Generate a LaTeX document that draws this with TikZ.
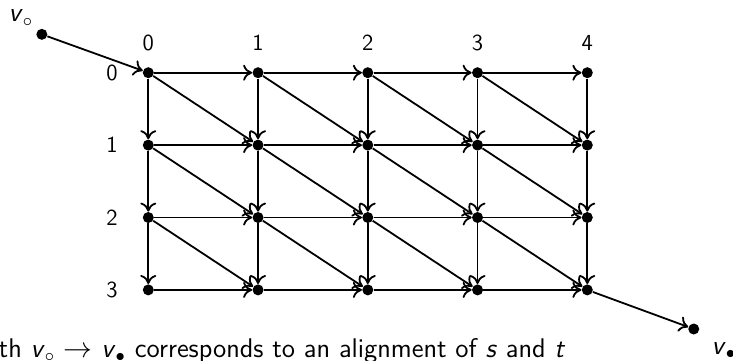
\documentclass[tikz,border=0pt]{standalone}
\usetikzlibrary{arrows.meta}

\begin{document}
\begin{tikzpicture}[x=54.875pt, y=-36.2pt,
    font=\sffamily\fontsize{11.5}{13}\selectfont,
    dot/.style={circle, fill=black, inner sep=0pt, minimum size=5.5pt},
    edge/.style={line width=0.9pt, -{To[length=4.5pt, width=8pt]}},
    big/.style={anchor=base west, inner sep=0pt, font=\sffamily\fontsize{13.5}{16}\selectfont}]
  \useasboundingbox (-74.15pt,36.35pt) rectangle (292.35pt,-143.65pt);
  % alignment grid
  \foreach \i in {0,...,4} {
    \foreach \j in {0,...,3} {
      \node[dot] (n\i\j) at (\i,\j) {};
    }
  }
  \foreach \i in {0,...,4}
    \node (col\i) at (\i,-0.41) {\i};
  \foreach \j in {0,...,3}
    \node (row\j) at (-0.33,\j) {\j};
  % moves
  \foreach \i/\ni in {0/1,1/2,2/3,3/4} {
    \foreach \j in {0,...,3}
      \draw[edge] (n\i\j) -- (n\ni\j);
  }
  \foreach \j/\nj in {0/1,1/2,2/3} {
    \foreach \i in {0,...,4}
      \draw[edge] (n\i\j) -- (n\i\nj);
  }
  \foreach \i/\ni in {0/1,1/2,2/3,3/4} {
    \foreach \j/\nj in {0/1,1/2,2/3}
      \draw[edge] (n\i\j) -- (n\ni\nj);
  }
  % source and sink
  \node[dot] (vin) at (-0.97,-0.53) {};
  \node[dot] (vout) at (4.97,3.54) {};
  \draw[edge] (vin) -- (n00);
  \draw[edge] (n43) -- (vout);
  \node[big] (vinlabel) at (-70pt,25.5pt) {\textsl{v}$_\circ$};
  \node[big] (voutlabel) at (281.5pt,-140.8pt) {\textsl{v}$_\bullet$};
  \node[big] (caption) at (-75pt,-142.4pt)
    {th \textsl{v}$_\circ$ $\to$ \textsl{v}$_\bullet$ corresponds to an alignment of \textsl{s} and \textsl{t}};
\end{tikzpicture}
\end{document}
